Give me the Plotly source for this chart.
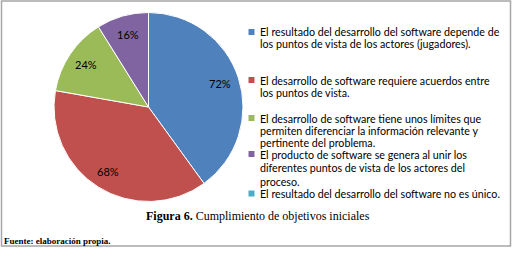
import math
import plotly.graph_objects as go

# ---- data ----
labels = [
    "El resultado del desarrollo del software depende de<br>los puntos de vista de los actores (jugadores).",
    "El desarrollo de software requiere acuerdos entre<br>los puntos de vista.",
    "El desarrollo de software tiene unos límites que<br>permiten diferenciar la información relevante y<br>pertinente del problema.",
    "El producto de software se genera al unir los<br>diferentes puntos de vista de los actores del<br>proceso.",
    "El resultado del desarrollo del software no es único.",
]
values = [72, 68, 24, 16, 0]
colors = ["#4F81BD", "#C0504D", "#9BBB59", "#8064A2", "#4BACC6"]
title_bold = "Figura 6."
title_rest = "Cumplimiento de objetivos iniciales"
source_text = "Fuente: elaboración propia."

# ---- layout constants ----
W, H = 516, 262
cx, cy, r = 148.5, 107.0, 94.5
legend_line_y = [[32, 43.5], [80, 92.5], [118, 130, 142], [154, 167.5, 181], [193.5]]
legend_marker_x = 251.5
legend_text_x = 257.5
FONT = "Lato"

fig = go.Figure()
fig.add_trace(go.Pie(
    labels=[l.replace("<br>", " ") for l in labels],
    values=values,
    sort=False,
    direction="clockwise",
    rotation=0,
    marker=dict(colors=colors, line=dict(color="white", width=1)),
    textinfo="none",
    hoverinfo="label+value",
    showlegend=False,
    domain=dict(x=[(cx - r) / W, (cx + r) / W], y=[1 - (cy + r) / H, 1 - (cy - r) / H]),
))

annotations = []
shapes = []
total = sum(values)
cum = 0
for v in values:
    if v > 0:
        theta = 2 * math.pi * (cum + v / 2) / total
        px = cx + 0.8 * r * math.sin(theta)
        py = cy - 0.8 * r * math.cos(theta)
        annotations.append(dict(
            x=px / W, y=1 - py / H, xref="paper", yref="paper",
            text=f"{v}%", showarrow=False, xanchor="center", yanchor="middle",
            font=dict(family=FONT, size=11, color="#000000"),
        ))
    cum += v

# legend built from labels
for lab, col, ys in zip(labels, colors, legend_line_y):
    lines = lab.split("<br>")
    for line, yy in zip(lines, ys):
        annotations.append(dict(
            x=legend_text_x / W, y=1 - yy / H, xref="paper", yref="paper",
            text=line, showarrow=False, xanchor="left", yanchor="middle",
            font=dict(family=FONT, size=10.7, color="#000000"),
        ))
    y0 = ys[0]
    shapes.append(dict(
        type="rect", xref="paper", yref="paper",
        x0=(legend_marker_x - 3) / W, x1=(legend_marker_x + 3) / W,
        y0=1 - (y0 + 3) / H, y1=1 - (y0 - 3) / H,
        fillcolor=col, line=dict(width=0),
    ))

# caption
annotations.append(dict(
    x=257.5 / W, y=1 - 216 / H, xref="paper", yref="paper",
    text=f"<b>{title_bold}</b> {title_rest}", showarrow=False,
    xanchor="center", yanchor="middle",
    font=dict(family="Liberation Serif", size=12, color="#000000"),
))
annotations.append(dict(
    x=2 / W, y=1 - 241 / H, xref="paper", yref="paper",
    text=f"<b>{source_text}</b>", showarrow=False,
    xanchor="left", yanchor="middle",
    font=dict(family="Liberation Serif", size=9, color="#000000"),
))

# frame
shapes.append(dict(
    type="rect", xref="paper", yref="paper",
    x0=1.5 / W, x1=510.5 / W, y0=1 - 246 / H, y1=1 - 1 / H,
    line=dict(color="#A6A6A6", width=1.5), fillcolor="rgba(0,0,0,0)",
))

fig.update_layout(
    width=W, height=H,
    margin=dict(l=0, r=0, t=0, b=0),
    paper_bgcolor="white",
    plot_bgcolor="white",
    annotations=annotations,
    shapes=shapes,
)

fig.write_html(
    "out.html",
    config={"displayModeBar": False},
    post_script="document.body.style.margin='0';document.body.style.padding='0';",
)
